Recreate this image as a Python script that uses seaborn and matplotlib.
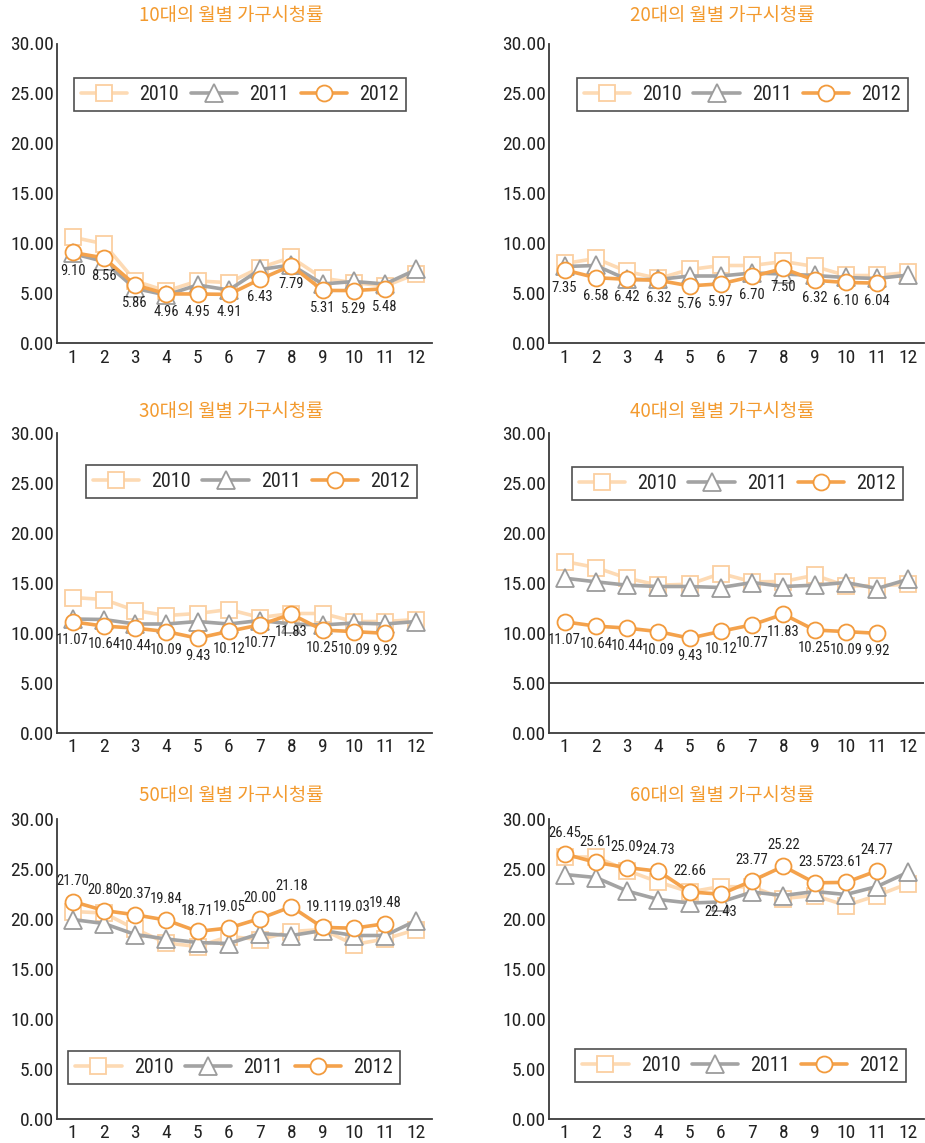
import matplotlib
matplotlib.use("Agg")
import matplotlib.pyplot as plt
from matplotlib import font_manager
import seaborn as sns

# ---- data -------------------------------------------------------------
months = list(range(1, 13))
month_labels = [str(m) for m in months]
years = ["2010", "2011", "2012"]
y_ticks = [0, 5, 10, 15, 20, 25, 30]

titles = [
    "10대의 월별 가구시청률",
    "20대의 월별 가구시청률",
    "30대의 월별 가구시청률",
    "40대의 월별 가구시청률",
    "50대의 월별 가구시청률",
    "60대의 월별 가구시청률",
]

teens_2010 = [10.63, 9.97, 6.25, 5.25, 6.25, 6.09, 7.59, 8.60, 6.52, 6.09, 5.75, 6.96]
teens_2011 = [9.00, 8.20, 5.50, 4.85, 5.85, 5.35, 7.40, 7.85, 5.95, 6.20, 5.95, 7.40]
teens_2012 = [9.10, 8.56, 5.86, 4.96, 4.95, 4.91, 6.43, 7.79, 5.31, 5.29, 5.48]

twenties_2010 = [8.00, 8.50, 7.20, 6.50, 7.40, 7.80, 7.80, 8.20, 7.70, 6.80, 6.80, 7.10]
twenties_2011 = [7.70, 7.80, 6.40, 6.40, 6.75, 6.75, 7.05, 6.95, 6.80, 6.60, 6.50, 6.85]
twenties_2012 = [7.35, 6.58, 6.42, 6.32, 5.76, 5.97, 6.70, 7.50, 6.32, 6.10, 6.04]

thirties_2010 = [13.50, 13.30, 12.20, 11.70, 11.90, 12.30, 11.50, 11.90, 11.90, 11.10, 11.10, 11.30]
thirties_2011 = [11.35, 11.30, 10.85, 10.85, 11.10, 10.85, 11.20, 10.85, 10.75, 10.95, 10.85, 11.10]
thirties_2012 = [11.07, 10.64, 10.44, 10.09, 9.43, 10.12, 10.77, 11.83, 10.25, 10.09, 9.92]

forties_2010 = [17.10, 16.50, 15.43, 14.73, 14.83, 15.90, 15.07, 15.10, 15.73, 14.67, 14.67, 14.83]
forties_2011 = [15.43, 15.07, 14.73, 14.60, 14.60, 14.50, 15.00, 14.60, 14.73, 15.00, 14.40, 15.33]
forties_2012 = [11.07, 10.64, 10.44, 10.09, 9.43, 10.12, 10.77, 11.83, 10.25, 10.09, 9.92]

fifties_2010 = [20.70, 20.55, 18.95, 17.55, 17.20, 18.20, 17.90, 18.70, 18.90, 17.40, 17.95, 18.90]
fifties_2011 = [19.90, 19.50, 18.40, 17.95, 17.60, 17.50, 18.50, 18.30, 18.80, 18.30, 18.30, 19.80]
fifties_2012 = [21.70, 20.80, 20.37, 19.84, 18.71, 19.05, 20.00, 21.18, 19.11, 19.03, 19.48]

sixties_2010 = [26.15, 26.15, 24.80, 23.65, 22.65, 23.20, 23.15, 22.00, 22.30, 21.30, 22.30, 23.50]
sixties_2011 = [24.40, 24.10, 22.75, 21.90, 21.55, 21.65, 22.65, 22.30, 22.70, 22.40, 23.20, 24.65]
sixties_2012 = [26.45, 25.61, 25.09, 24.73, 22.66, 22.43, 23.77, 25.22, 23.57, 23.61, 24.77]

# ---- styling ----------------------------------------------------------
def pick_font(names):
    for n in names:
        try:
            font_manager.findfont(font_manager.FontProperties(family=n),
                                  fallback_to_default=False)
            return n
        except Exception:
            continue
    return "DejaVu Sans"

num_font = pick_font(["Liberation Sans Narrow", "DejaVu Sans Condensed",
                      "Roboto Condensed", "Liberation Sans"])

sns.set_theme(style="white")
plt.rcParams["font.family"] = [num_font, "Noto Sans CJK KR", "DejaVu Sans"]
plt.rcParams["axes.unicode_minus"] = False

TITLE_COLOR = "#F39A2E"
AXIS_COLOR = "#3c3c3c"
TEXT_COLOR = "#222222"

series_style = {
    "2010": dict(color="#FDDAB4", marker="s", mec="#FBCFA0", ms=11.5, z=2),
    "2011": dict(color="#A3A3A3", marker="^", mec="#9C9C9C", ms=12.5, z=3),
    "2012": dict(color="#F4A24C", marker="o", mec="#F29A3C", ms=11.5, z=4),
}

W, H = 925, 1143
fig = plt.figure(figsize=(W / 100, H / 100), dpi=100)

col_left = [57, 549]
row_bottom = [343.5, 732.5, 1118.5]
ax_w, ax_h = 375, 300
title_x = [231, 722]
title_y = [15, 411, 796]

panels = [
    dict(vals=[teens_2010, teens_2011, teens_2012], pos="below", flip=[],
         leg=(0.045, 0.77, 0.885, 0.12)),
    dict(vals=[twenties_2010, twenties_2011, twenties_2012], pos="below", flip=[],
         leg=(0.075, 0.77, 0.882, 0.12)),
    dict(vals=[thirties_2010, thirties_2011, thirties_2012], pos="below", flip=[],
         leg=(0.077, 0.777, 0.883, 0.12)),
    dict(vals=[forties_2010, forties_2011, forties_2012], pos="below", flip=[],
         leg=(0.061, 0.77, 0.883, 0.123), hline=5),
    dict(vals=[fifties_2010, fifties_2011, fifties_2012], pos="above", flip=[],
         leg=(0.03, 0.107, 0.885, 0.123)),
    dict(vals=[sixties_2010, sixties_2011, sixties_2012], pos="above", flip=[5],
         leg=(0.07, 0.113, 0.882, 0.127)),
]

for i, p in enumerate(panels):
    r, c = divmod(i, 2)
    left = col_left[c] / W
    bottom = (H - row_bottom[r]) / H
    ax = fig.add_axes([left, bottom, ax_w / W, ax_h / H])

    if "hline" in p:
        ax.axhline(p["hline"], color=AXIS_COLOR, lw=1.3, zorder=1)

    for year, vals in zip(years, p["vals"]):
        st = series_style[year]
        sns.lineplot(x=months[:len(vals)], y=vals, ax=ax, color=st["color"],
                     marker=st["marker"], markersize=st["ms"],
                     markerfacecolor="white", markeredgecolor=st["mec"],
                     markeredgewidth=1.3, linewidth=2.6, label=year,
                     zorder=st["z"], sort=False, clip_on=False)

    # value labels on the 2012 series
    vals12 = p["vals"][2]
    for j, v in enumerate(vals12):
        above = (p["pos"] == "above") != (j in p["flip"])
        dy = 15 if above else -13
        ax.annotate(f"{v:.2f}", xy=(months[j], v), xytext=(0, dy),
                    textcoords="offset points", ha="center", va="center",
                    fontsize=10.5, color=TEXT_COLOR, zorder=6)

    ax.set_xlim(0.5, 12.5)
    ax.set_ylim(0, 30)
    ax.set_yticks(y_ticks)
    ax.set_yticklabels([f"{t:.2f}" for t in y_ticks])
    ax.set_xticks(months)
    ax.set_xticklabels(month_labels)
    ax.set_xticks([m + 0.5 for m in months], minor=True)
    ax.set_xlabel("")
    ax.set_ylabel("")
    ax.grid(False)

    ax.tick_params(axis="x", which="major", length=0, pad=4,
                   labelsize=14, labelcolor=TEXT_COLOR)
    ax.tick_params(axis="x", which="minor", direction="in", length=6,
                   width=1.2, color=AXIS_COLOR)
    ax.tick_params(axis="y", direction="in", length=4, width=1.2,
                   color=AXIS_COLOR, pad=2, labelsize=14, labelcolor=TEXT_COLOR)

    sns.despine(ax=ax)
    for side in ("left", "bottom"):
        ax.spines[side].set_color(AXIS_COLOR)
        ax.spines[side].set_linewidth(1.3)

    leg = ax.legend(loc="center", bbox_to_anchor=p["leg"], mode="expand",
                    ncol=3, frameon=True, fancybox=False, fontsize=14.5,
                    handlelength=2.3, handletextpad=0.6, borderpad=0.35,
                    borderaxespad=0)
    leg.get_frame().set_edgecolor("#222222")
    leg.get_frame().set_linewidth(1.2)
    leg.get_frame().set_facecolor("white")
    leg.set_zorder(10)

    fig.text(title_x[c] / W, (H - title_y[r]) / H, titles[i],
             ha="center", va="center", fontsize=13.5, color=TITLE_COLOR,
             family=["Noto Sans CJK KR", "DejaVu Sans"])

fig.savefig("out.png", dpi=100)
